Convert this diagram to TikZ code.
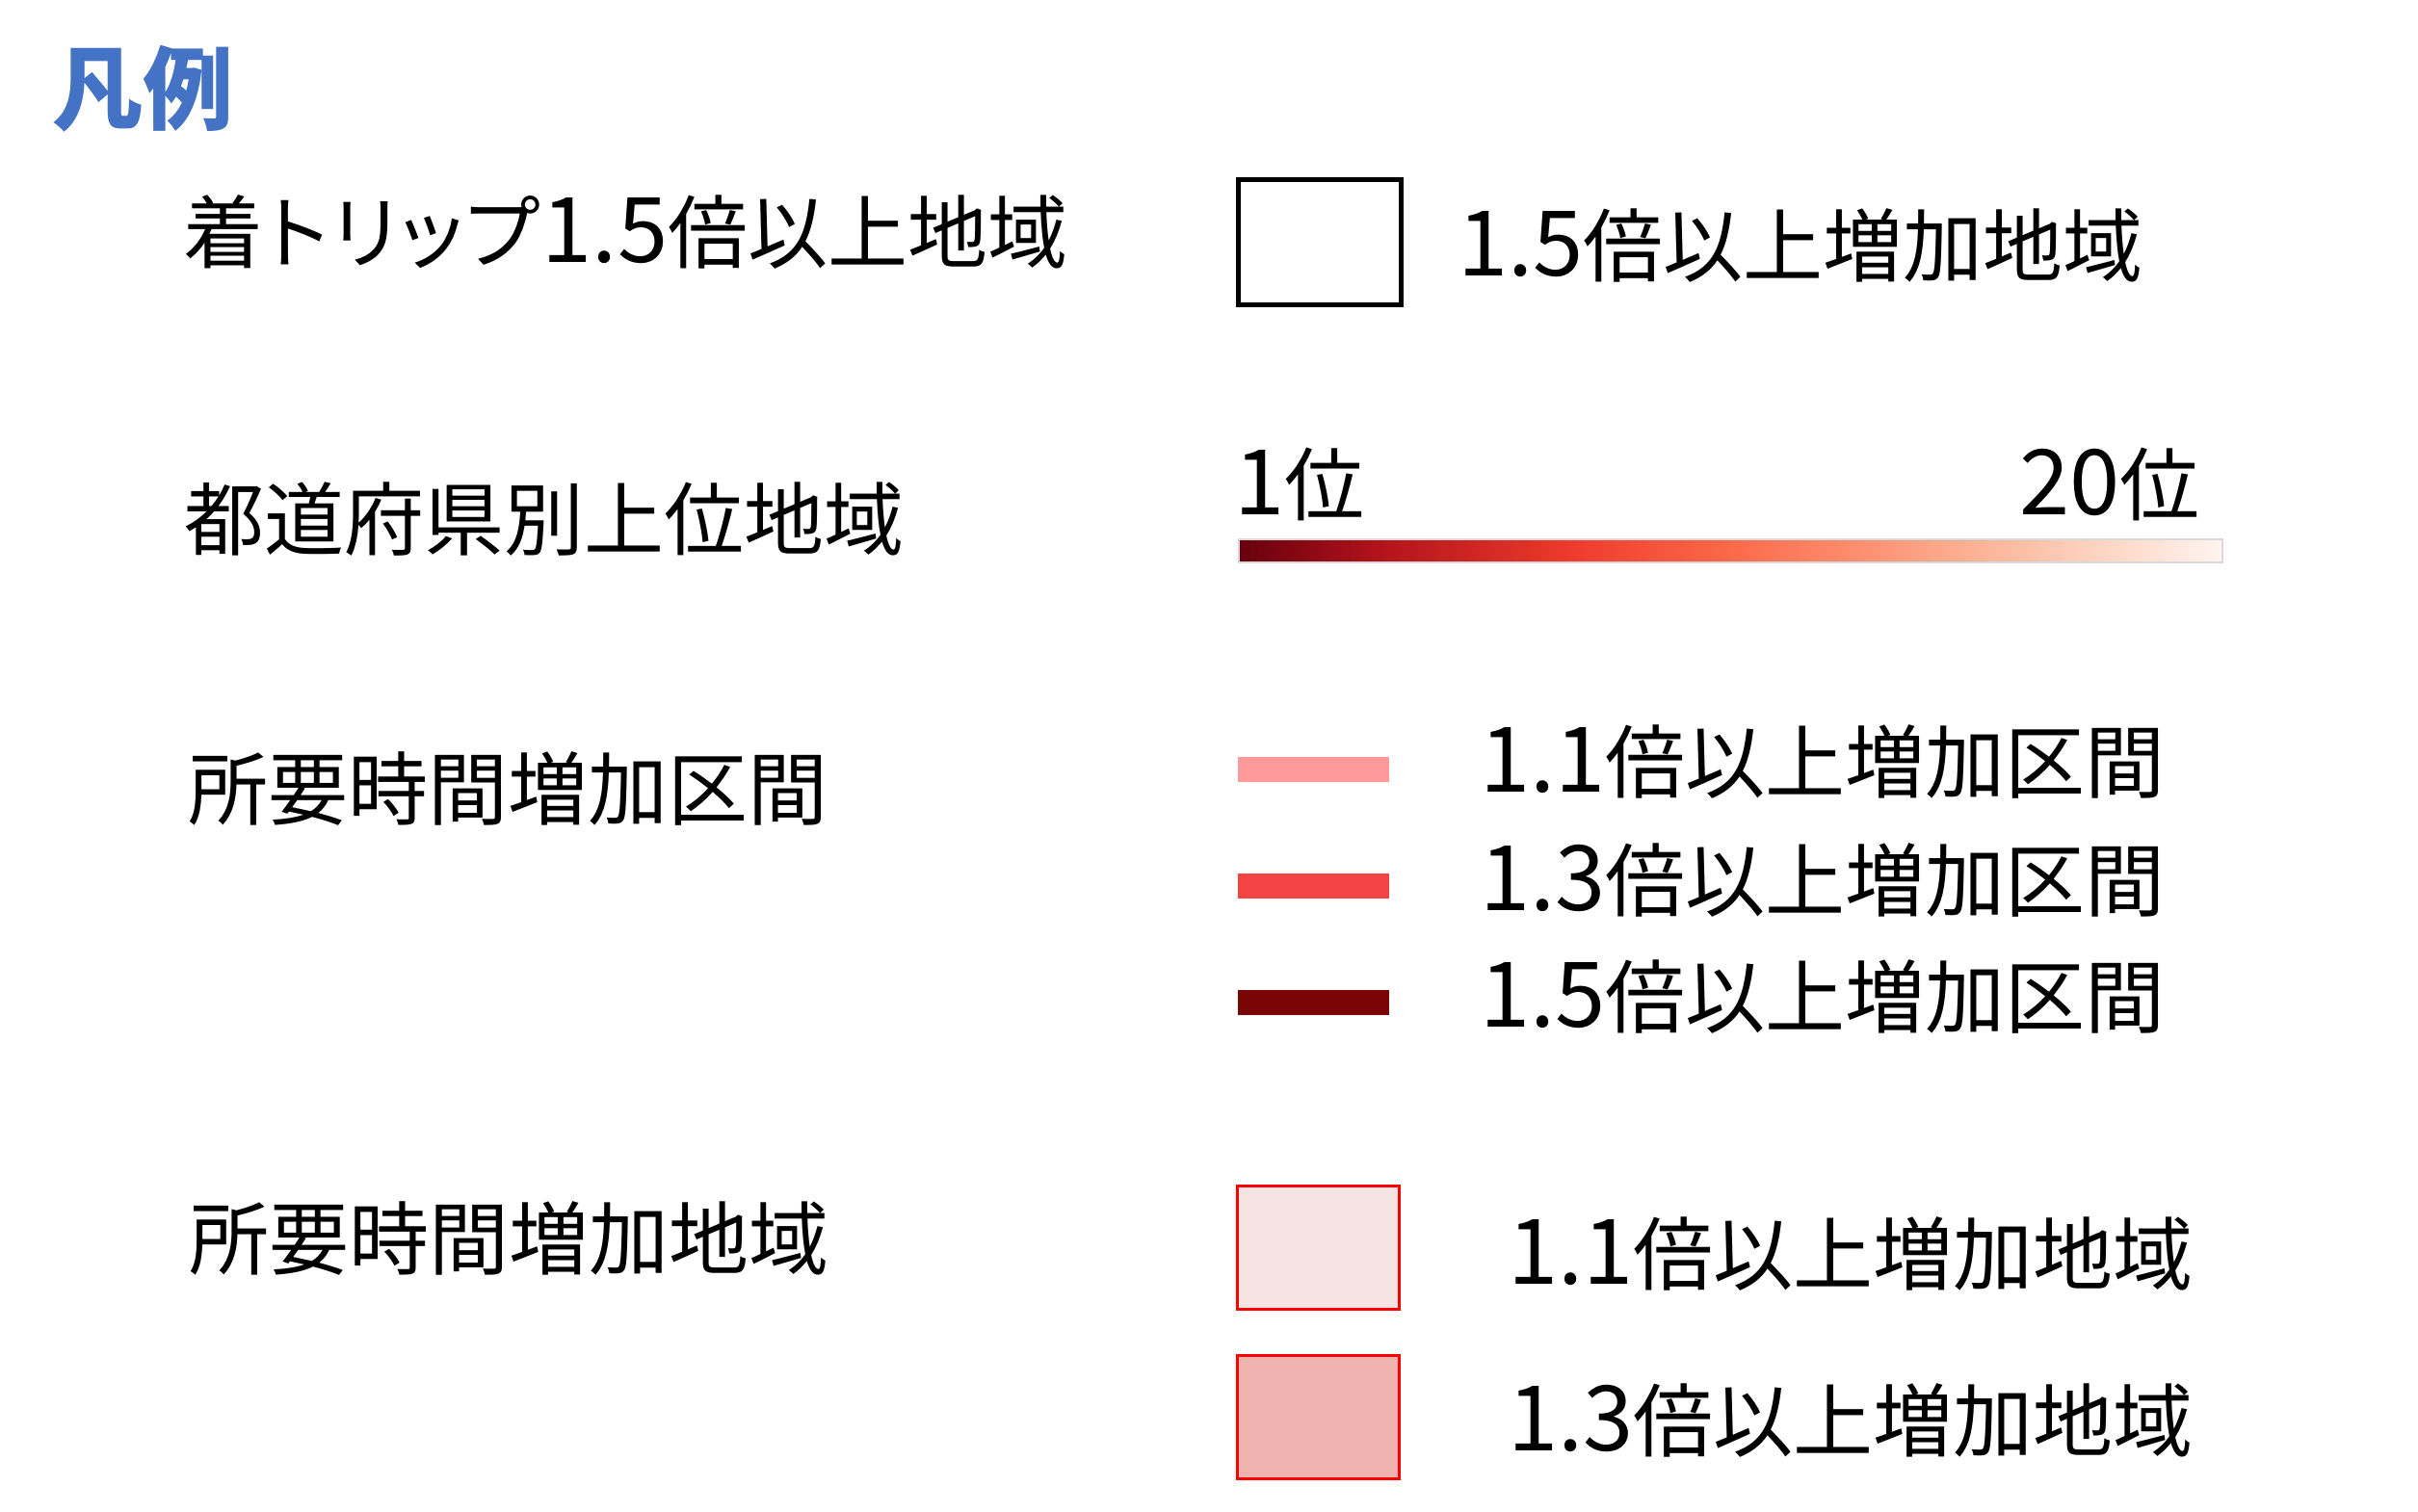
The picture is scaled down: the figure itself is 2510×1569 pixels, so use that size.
\documentclass[tikz,border=0pt]{standalone}
\usepackage{fontspec}
\setmainfont{Noto Sans CJK JP}
\definecolor{titleblue}{HTML}{4472C4}
\definecolor{sec1}{HTML}{FF9A9A}
\definecolor{sec3}{HTML}{F44343}
\definecolor{sec5}{HTML}{7A0505}
\definecolor{ar1}{HTML}{F5E4E2}
\definecolor{ar3}{HTML}{F0B3AF}
\definecolor{rA}{HTML}{67000D}
\definecolor{rB}{HTML}{B1121B}
\definecolor{rC}{HTML}{EF3B2C}
\definecolor{rD}{HTML}{FB6A4A}
\definecolor{rE}{HTML}{FC9272}
\definecolor{rF}{HTML}{FCBBA1}
\definecolor{rG}{HTML}{FEE0D2}
\definecolor{rH}{HTML}{FFF5F0}
\pgfdeclarehorizontalshading{redsrev}{100bp}{color(0bp)=(rA); color(25bp)=(rA); color(32bp)=(rB); color(42bp)=(rC); color(50bp)=(rD); color(57bp)=(rE); color(64bp)=(rF); color(71bp)=(rG); color(75bp)=(rH); color(100bp)=(rH)}
\newcommand\dg[1]{{\fontsize{94}{94}\selectfont #1}}
\newcommand\kana[1]{{\addfontfeature{RawFeature=+palt}#1}}
\begin{document}
\begin{tikzpicture}[x=1pt,y=1pt,
  lbl/.style={anchor=base west,inner sep=0pt,font=\fontsize{83}{83}\selectfont},
  sectline/.style={line width=26pt},
  areabox/.style={draw=red,line width=2.5pt}]
\useasboundingbox (0,0) rectangle (2510,-1569);
\node[anchor=base west,inner sep=0pt,text=titleblue,font=\fontsize{94}{94}\selectfont\bfseries] (title) at (54,-127) {凡例};
\node[lbl] (l1) at (190,-272) {着\kern4pt\kana{ト\kern3pt リ\kern3pt ッ\kern3pt プ}\kern3pt\dg{1.5}倍以上地域};
\node[draw=black,line width=5pt,minimum width=169pt,minimum height=130pt,inner sep=0pt,anchor=north west] (box1) at (1282.5,-183.5) {};
\node[lbl] (r1) at (1513,-286) {\dg{1.5}倍以上増加地域};
\node[lbl] (l2) at (191,-570) {都道府県別上位地域};
\node[lbl] (rank1) at (1281,-534) {\dg{1}位};
\node[anchor=base east,inner sep=0pt,font=\fontsize{83}{83}\selectfont] (rank20) at (2284,-534) {\dg{20}位};
\shade[shading=redsrev] (1286,-560) rectangle (2307,-584);
\draw[black!15,line width=1.5pt] (1286,-560) rectangle (2307,-584);
\node[lbl] (l3) at (195,-850) {所要時間増加区間};
\coordinate (s1a) at (1285,-799); \coordinate (s1b) at (1442,-799);
\coordinate (s3a) at (1285,-920); \coordinate (s3b) at (1442,-920);
\coordinate (s5a) at (1285,-1041); \coordinate (s5b) at (1442,-1041);
\draw[sectline,sec1] (s1a) -- (s1b);
\draw[sectline,sec3] (s3a) -- (s3b);
\draw[sectline,sec5] (s5a) -- (s5b);
\node[lbl] (t1) at (1536,-822) {\dg{1.1}倍以上増加区間};
\node[lbl] (t3) at (1536,-945) {\dg{1.3}倍以上増加区間};
\node[lbl] (t5) at (1536,-1066) {\dg{1.5}倍以上増加区間};
\node[lbl] (l4) at (196,-1317) {所要時間増加地域};
\node[areabox,fill=ar1,minimum width=168pt,minimum height=128pt,inner sep=0pt,anchor=north west] (a1) at (1283,-1230) {};
\node[areabox,fill=ar3,minimum width=168pt,minimum height=128pt,inner sep=0pt,anchor=north west] (a3) at (1283,-1406) {};
\node[lbl] (u1) at (1565,-1333) {\dg{1.1}倍以上増加地域};
\node[lbl] (u3) at (1565,-1506) {\dg{1.3}倍以上増加地域};
\end{tikzpicture}
\end{document}
